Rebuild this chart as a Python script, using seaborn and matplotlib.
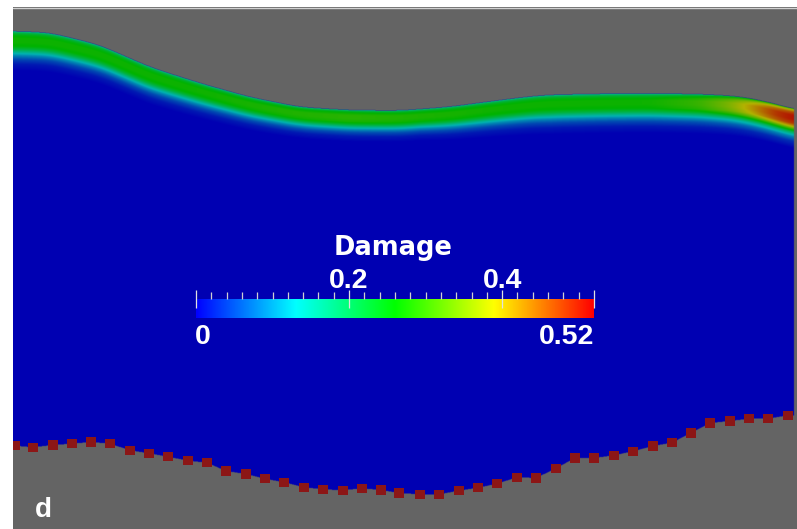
import numpy as np
import matplotlib
matplotlib.use("Agg")
import matplotlib.pyplot as plt
import seaborn as sns
from matplotlib.colors import LinearSegmentedColormap
import pandas as pd

# ---------------- data (pixel-like units) ----------------
# top free surface of the body
top_x = [13, 50, 100, 150, 200, 250, 300, 350, 400, 450, 500, 533, 550, 600, 650, 700, 733, 750, 773, 797]
top_y = [31, 32.5, 45, 67, 83, 97, 107, 110, 110.5, 106.7, 100, 96, 94.7, 93.7, 93.3, 94, 95.7, 98, 103, 110]

# peak damage of the surface layer along x
peak_x = [13, 200, 350, 420, 500, 650, 700, 730, 755, 775, 797]
peak_v = [0.27, 0.27, 0.29, 0.28, 0.27, 0.27, 0.30, 0.35, 0.42, 0.48, 0.51]

# relative damage profile with depth below the surface
depth_d = [0, 2, 4, 7, 11, 15, 18, 21, 24, 28, 33, 40]
depth_r = [0.55, 0.8, 0.92, 1.0, 1.0, 0.95, 0.8, 0.58, 0.38, 0.2, 0.07, 0.0]

# layer thickness scale along x
thick_x = [13, 150, 300, 420, 550, 797]
thick_s = [1.0, 0.95, 0.8, 0.8, 1.0, 1.0]

# bottom boundary nodes (markers)
node_x = [15, 33, 53, 72, 91, 110, 130, 149, 168, 188, 207, 226, 246, 265, 284, 304, 323, 343,
          362, 381, 399, 420, 439, 459, 478, 497, 517, 536, 556, 575, 594, 614, 633, 653, 672,
          691, 710, 730, 749, 768, 788]
node_y = [445.7, 447.3, 445, 443.7, 442, 443.7, 450.3, 453.3, 456.7, 460.7, 462.7, 471, 474,
          478.7, 482.3, 487.3, 489.3, 490.3, 488.3, 490, 493, 494.3, 494.3, 490.7, 487.7, 483.7,
          477.3, 478, 468.3, 458, 458, 455.3, 451.3, 446, 442.7, 433, 423, 421, 418.7, 418.7, 415.3]

body_right = 794
vmin, vmax = 0.0, 0.52
minor_ticks = list(np.round(np.arange(0, 0.5201, 0.02), 2))
major_ticks = [0.0, 0.2, 0.4, 0.52]
top_labels = ["0.2", "0.4"]
cbar_title = "Damage"
panel_label = "d"

# ---------------- styling ----------------
sns.set_theme(style="white")
plt.rcParams['font.family'] = ['Liberation Sans', 'DejaVu Sans']

W, H = 797, 529
fig = plt.figure(figsize=(W / 100, H / 100), dpi=100)
fig.patch.set_facecolor("white")

x0, y0 = 13, 7
ax = fig.add_axes([x0 / W, 0, (W - x0) / W, (H - y0) / H])
ax.set_xlim(x0, W)
ax.set_ylim(H, y0)
ax.set_axis_off()
ax.add_patch(plt.Rectangle((x0, y0), W - x0, H - y0, facecolor="#646464", edgecolor="none", zorder=0))
ax.plot([x0, W], [y0 + 0.5, y0 + 0.5], color="#d0d0d0", lw=1, zorder=1)

cmap = LinearSegmentedColormap.from_list(
    "bluered", ["#0000ff", "#00ffff", "#00ff00", "#ffff00", "#ff0000"])

# ---------------- field ----------------
res = 2
gx = np.arange(x0, W, 1 / res) + 0.5 / res
gy = np.arange(y0, H, 1 / res) + 0.5 / res
X, Y = np.meshgrid(gx, gy)


def smooth(v, sigma_px):
    s = sigma_px * res
    k = np.arange(-int(4 * s), int(4 * s) + 1)
    ker = np.exp(-0.5 * (k / s) ** 2)
    ker /= ker.sum()
    pad = len(k) // 2
    vp = np.pad(v, pad, mode="edge")
    return np.convolve(vp, ker, mode="valid")


top = smooth(np.interp(gx, top_x, top_y), 10)[None, :]
bot = smooth(np.interp(gx, node_x, node_y), 3)[None, :]
pk = smooth(np.interp(gx, peak_x, peak_v), 6)[None, :]
ts = np.interp(gx, thick_x, thick_s)[None, :]
depth = (Y - top) / ts
val = pk * np.interp(depth, depth_d, depth_r, left=0, right=0)
rgba = cmap((val - vmin) / (vmax - vmin))
shade = 0.70
rgba[..., :3] *= shade
inside = (Y >= top) & (Y <= bot) & (X <= body_right)
rgba[..., 3] = inside.astype(float)
ax.imshow(rgba, extent=(x0, W, H, y0), interpolation="bilinear", zorder=2, aspect="auto")

# bottom boundary nodes
nodes = pd.DataFrame({"x": node_x, "y": node_y})
sns.scatterplot(data=nodes, x="x", y="y", ax=ax, marker="s", s=44, color="#8c1616",
                edgecolor="none", linewidth=0, zorder=4, legend=False)
ax.set_xlim(x0, W)
ax.set_ylim(H, y0)
ax.set_axis_off()

# panel label
fig.text(35 / W, 1 - 517 / H, panel_label, color="white", fontsize=20, fontweight="bold",
         ha="left", va="baseline")

# ---------------- colour bar ----------------
cax = fig.add_axes([196 / W, 1 - 318 / H, 398 / W, 19 / H])
grad = np.linspace(vmin, vmax, 512)[None, :]
cax.imshow(grad, cmap=cmap, vmin=vmin, vmax=vmax, aspect="auto",
           extent=(vmin, vmax, 0, 1), interpolation="bilinear")
cax.set_xlim(vmin, vmax)
cax.set_ylim(0, 1)
for s in cax.spines.values():
    s.set_visible(False)
cax.set_yticks([])
cax.xaxis.set_ticks_position("top")
cax.set_xticks(major_ticks)
cax.set_xticklabels([])
cax.set_xticks(minor_ticks, minor=True)
cax.tick_params(axis="x", which="major", direction="inout", length=12.5, width=0.9,
                color="#e0e0e0", top=True, bottom=False, pad=0)
cax.tick_params(axis="x", which="minor", direction="out", length=5, width=0.9,
                color="#d0d0d0", top=True, bottom=False)

fig.text(393 / W, 1 - 255 / H, cbar_title, color="white", fontsize=18.5, fontweight="bold",
         family=["DejaVu Sans"], ha="center", va="baseline")
for tv, lab in zip([0.2, 0.4], top_labels):
    xp = 196 + (tv - vmin) / (vmax - vmin) * 398
    fig.text(xp / W, 1 - 287.5 / H, lab, color="white", fontsize=20.5, fontweight="bold",
             ha="center", va="baseline")
fig.text(195 / W, 1 - 344.5 / H, f"{vmin:g}", color="white", fontsize=20.5, fontweight="bold",
         ha="left", va="baseline")
fig.text(594 / W, 1 - 344.5 / H, f"{vmax:g}", color="white", fontsize=20.5, fontweight="bold",
         ha="right", va="baseline")

fig.savefig("out.png", dpi=100, facecolor="white")
